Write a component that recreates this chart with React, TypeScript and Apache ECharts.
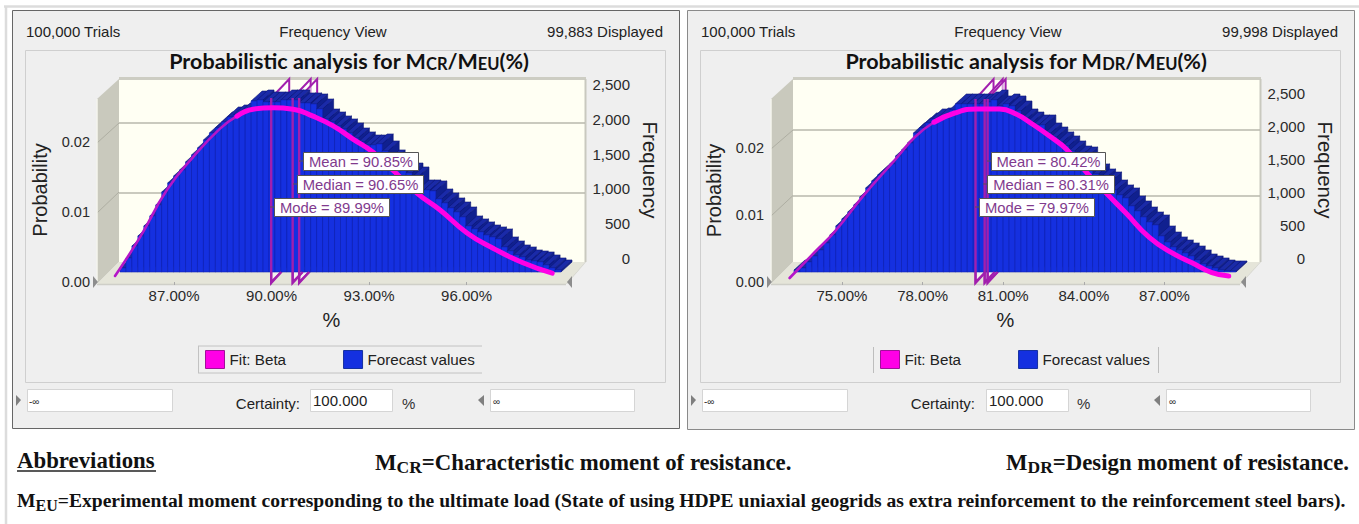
import React, { useEffect, useRef } from "react";
import * as echarts from "echarts";

const SANS = "'Liberation Sans', Arial, sans-serif";
const SERIF = "'Liberation Serif', 'Times New Roman', serif";
const TITLE_FONT = "Lato, 'Noto Sans', sans-serif";

// Left chart: M_CR / M_EU
const crBars = [58,201,374,518,662,806,964,1151,1281,1381,1468,1583,1684,1784,1899,2000,2072,2158,2230,2259,2288,2302,2460,2475,2446,2446,2446,2475,2475,2475,2432,2432,2417,2345,2201,2158,2101,2058,2000,1928,1871,1827,1827,1842,1741,1612,1554,1496,1424,1367,1180,1180,1166,1050,993,921,863,791,662,619,576,532,504,475,360,302,245,216,173,158,144,101,58,29];
const crFitX = [85.0,85.77,86.6,87.4,88.23,88.75,89.25,89.86,90.48,91.09,91.71,92.32,92.94,93.6,94.3,95.0,95.83,96.63,97.55,98.45];
const crFitY = [0,.0056,.0124,.0171,.0212,.023,.024,.0242,.024,.023,.0216,.0197,.0178,.015,.0119,.0095,.0062,.004,.0019,.0004];
const crStats = [89.99, 90.65, 90.85];
const crTicks = [87, 90, 93, 96];

// Right chart: M_DR / M_EU
const drBars = [30,61,152,242,333,439,561,697,803,909,1015,1136,1273,1379,1470,1545,1636,1757,1848,1954,2106,2182,2257,2318,2333,2333,2454,2545,2545,2545,2545,2545,2575,2606,2515,2545,2515,2439,2318,2272,2227,2227,2106,2045,1970,1909,1833,1757,1742,1576,1485,1409,1363,1242,1167,1121,1000,924,833,757,712,545,454,379,333,288,242,182,121,91,61,30,15,15];
const drFitX = [72.83,73.76,74.5,75.6,76.75,77.5,78.2,78.97,79.8,80.64,81.27,81.87,82.5,83.13,83.9,84.6,85.35,86.2,87.06,87.8,88.54,89.17];
const drFitY = [0,.0039,.007,.0126,.0179,.0214,.0236,.025,.0256,.0256,.0248,.0233,.0215,.0195,.0159,.0129,.0098,.0062,.0038,.0023,.0008,.0003];
const drStats = [79.97, 80.31, 80.42];
const drTicks = [75, 78, 81, 84, 87];

const probTicks = [0, 0.01, 0.02];
const freqTicks = [0, 500, 1000, 1500, 2000, 2500];

const crHead = ["100,000 Trials", "Frequency View", "99,883 Displayed"];
const drHead = ["100,000 Trials", "Frequency View", "99,998 Displayed"];
const crStatLabels = ["Mode = 89.99%", "Median = 90.65%", "Mean = 90.85%"];
const drStatLabels = ["Mode = 79.97%", "Median = 80.31%", "Mean = 80.42%"];

const MAGENTA = "#ff00e6";
const PURPLE = "#b516c8";
const MARK = "#a21fae";
const BLUE = "#1530e0";

function tx(x: number, y: number, text: string, font: string, fill: string, align = "left", extra: any = {}) {
  return {
    type: "text", x, y, z: 60, silent: true,
    style: { text, font, fill, align, textAlign: align, verticalAlign: "middle", textVerticalAlign: "middle", ...extra },
  };
}
const ln = (x1: number, y1: number, x2: number, y2: number, stroke: string, lineWidth = 1, z = -5) => ({
  type: "line", z, silent: true, shape: { x1, y1, x2, y2 }, style: { stroke, lineWidth },
});
const rc = (x: number, y: number, width: number, height: number, fill: string, stroke: string, z = -9, lineWidth = 1) => ({
  type: "rect", z, silent: true, shape: { x, y, width, height }, style: { fill, stroke, lineWidth },
});
const pg = (points: number[][], fill: string, z = -7, stroke = "none", lineWidth = 0) => ({
  type: "polygon", z, silent: true, shape: { points }, style: { fill, stroke, lineWidth },
});

function barRender(dx: number, dy: number) {
  return (params: any, api: any) => {
    const i = api.value(0);
    const [cx, y] = api.coord([i, api.value(1)]);
    const base = api.coord([i, 0])[1];
    const w = api.size([1, 0])[0];
    const x0 = cx - w / 2;
    const x1 = cx + w / 2;
    const dark = { fill: "#1a2aa8", stroke: "#0b1675", lineWidth: 0.6 };
    return {
      type: "group",
      children: [
        { type: "polygon", shape: { points: [[x1, y], [x1 + dx, y - dy], [x1 + dx, base - dy], [x1, base]] }, style: { ...dark, fill: "#10208f" } },
        { type: "polygon", shape: { points: [[x0, y], [x0 + dx, y - dy], [x1 + dx, y - dy], [x1, y]] }, style: dark },
        { type: "rect", shape: { x: x0, y, width: w, height: base - y }, style: { fill: BLUE, stroke: "#1124b4", lineWidth: 0.6 } },
      ],
    };
  };
}

function markBack(maxProb: number) {
  return (params: any, api: any) => {
    const [x, yBase] = api.coord([api.value(0), 0]);
    const yTop = api.coord([api.value(0), maxProb])[1];
    return {
      type: "polygon",
      shape: { points: [[x, yTop], [x + 18, 79], [x + 18, yBase - 18], [x, yBase]] },
      style: { fill: "rgba(255,255,255,0.55)", stroke: MARK, lineWidth: 2 },
    };
  };
}
function markFront(maxProb: number) {
  return (params: any, api: any) => {
    const [x, yBase] = api.coord([api.value(0), 0]);
    const yTop = api.coord([api.value(0), maxProb])[1];
    return {
      type: "polyline",
      shape: { points: [[x, yTop], [x, yBase + 1], [x + 10, yBase - 10]] },
      style: { fill: "none", stroke: MARK, lineWidth: 2.4 },
    };
  };
}

const L = {
  head: crHead, statLabels: crStatLabels, stats: crStats, bars: crBars, fitX: crFitX, fitY: crFitY, ticks: crTicks,
  split: 5, frontL: 97, frontR: 566, xMin: 84.63, xMax: 99.06, frontTop: 98, frontMax: 0.0263,
  barL: 120, barW: 441, barMax: 2777, fitOff: 6, fitBottom: 276, fitScale: 6950,
  backL: 119, backR: 585, backMax: 2633, labelMax: 2543, dx: 11, dy: 10,
};
const R = {
  head: drHead, statLabels: drStatLabels, stats: drStats, bars: drBars, fitX: drFitX, fitY: drFitY, ticks: drTicks,
  split: 6, frontL: 771, frontR: 1240, xMin: 72.36, xMax: 89.81, frontTop: 99, frontMax: 0.0273,
  barL: 794, barW: 442, barMax: 2924, fitOff: 6, fitBottom: 278, fitScale: 6600,
  backL: 793, backR: 1260, backMax: 2773, labelMax: 2667, dx: 11, dy: 10,
};

function buildOption() {
  const grid: any[] = [];
  const xAxis: any[] = [];
  const yAxis: any[] = [];
  const series: any[] = [];
  [L, R].forEach((p, k) => {
    const gi = k * 5;
    const hiddenY = (gridIndex: number, max: number) => ({ gridIndex, type: "value", show: false, min: 0, max });
    // 0: front plane
    grid.push({ left: p.frontL, width: p.frontR - p.frontL, top: p.frontTop, height: 282 - p.frontTop });
    // 1: bar plane
    grid.push({ left: p.barL, width: p.barW, top: 79, height: 193 });
    // 2: fit plane
    const fitMax = 0.03;
    grid.push({ left: p.frontL + p.fitOff, width: p.frontR - p.frontL, top: p.fitBottom - fitMax * p.fitScale, height: fitMax * p.fitScale });
    // 3: back wall (gridlines)
    grid.push({ left: p.backL, width: p.backR - p.backL, top: 79, height: 183 });
    // 4: frequency scale, drawn a little above the wall
    grid.push({ left: p.backL, width: p.backR - p.backL, top: 82, height: 176 });

    xAxis.push({
      gridIndex: gi, type: "value", min: p.xMin, max: p.xMax,
      name: "%", nameLocation: "middle", nameGap: 28,
      nameTextStyle: { fontFamily: SANS, fontSize: 20, color: "#222" },
      axisLine: { show: false }, splitLine: { show: false },
      axisTick: { show: true, length: 3, customValues: p.ticks, lineStyle: { color: "#aaa" } },
      axisLabel: { margin: 6, fontFamily: SANS, fontSize: 15, color: "#2a2a2a", customValues: p.ticks, formatter: (v: number) => v.toFixed(2) + "%" },
    });
    xAxis.push({ gridIndex: gi + 1, type: "category", show: false, data: p.bars.map((_, i) => i), boundaryGap: true });
    xAxis.push({ gridIndex: gi + 2, type: "value", show: false, min: p.xMin, max: p.xMax });
    xAxis.push({ gridIndex: gi + 3, type: "value", show: false, min: 0, max: 1 });
    xAxis.push({ gridIndex: gi + 4, type: "value", show: false, min: 0, max: 1 });

    yAxis.push({
      gridIndex: gi, type: "value", min: 0, max: p.frontMax, position: "left",
      name: "Probability", nameLocation: "middle", nameRotate: 90, nameGap: 47,
      nameTextStyle: { fontFamily: SANS, fontSize: 20, color: "#222" },
      axisLine: { show: false }, axisTick: { show: false }, splitLine: { show: false },
      axisLabel: { margin: 7, fontFamily: SANS, fontSize: 14.5, color: "#2a2a2a", customValues: probTicks, formatter: (v: number) => v.toFixed(2) },
    });
    yAxis.push(hiddenY(gi + 1, p.barMax));
    yAxis.push(hiddenY(gi + 2, fitMax));
    yAxis.push({
      gridIndex: gi + 3, type: "value", min: 0, max: p.backMax, position: "left", interval: 1000,
      axisLine: { show: false }, axisTick: { show: false }, axisLabel: { show: false },
      splitLine: { show: true, showMinLine: false, showMaxLine: false, lineStyle: { color: "#b9b9ad", width: 1.5 } },
    });
    yAxis.push({
      gridIndex: gi + 4, type: "value", min: 0, max: p.labelMax, position: "right",
      name: "Frequency", nameLocation: "middle", nameRotate: -90, nameGap: 55,
      nameTextStyle: { fontFamily: SANS, fontSize: 20.5, color: "#222" },
      axisLine: { show: false }, axisTick: { show: false }, splitLine: { show: false },
      axisLabel: {
        margin: 45, align: "right", fontFamily: SANS, fontSize: 15, color: "#2a2a2a",
        customValues: freqTicks, formatter: (v: number) => v.toLocaleString("en-US"),
      },
    });

    const statData = p.stats.map((v) => [v, 0]);
    series.push({
      type: "custom", name: "Marker back", xAxisIndex: gi, yAxisIndex: gi, z: 3, silent: true,
      renderItem: markBack(p.frontMax), data: statData, encode: { x: 0, y: 1 },
    });
    series.push({
      type: "custom", name: "Forecast values", xAxisIndex: gi + 1, yAxisIndex: gi + 1, z: 4, silent: true,
      itemStyle: { color: BLUE }, renderItem: barRender(p.dx, p.dy),
      data: p.bars.map((v, i) => [i, v]), encode: { x: 0, y: 1 },
    });
    series.push({
      type: "custom", name: "Marker front", xAxisIndex: gi, yAxisIndex: gi, z: 5, silent: true,
      renderItem: markFront(p.frontMax), data: statData, encode: { x: 0, y: 1 },
    });
    const fit = p.fitX.map((x, i) => [x, p.fitY[i]]);
    series.push({
      type: "line", name: "Fit: Beta", xAxisIndex: gi + 2, yAxisIndex: gi + 2, z: 6, silent: true, clip: false,
      smooth: 0.5, showSymbol: false, symbol: "none", data: fit.slice(0, p.split + 1),
      lineStyle: { color: PURPLE, width: 2.6, cap: "round" }, itemStyle: { color: MAGENTA },
    });
    series.push({
      type: "line", name: "Fit: Beta", xAxisIndex: gi + 2, yAxisIndex: gi + 2, z: 6, silent: true, clip: false,
      smooth: 0.5, showSymbol: false, symbol: "none", data: fit.slice(p.split),
      lineStyle: { color: MAGENTA, width: 5, cap: "round" }, itemStyle: { color: MAGENTA },
    });
  });

  const font = (s: number) => `${s}px ${SANS}`;
  const els: any[] = [];
  // page frame
  els.push(ln(4, 6.5, 1359, 6.5, "#dcdcdc", 2.5, -12), ln(6, 6, 6, 524, "#dcdcdc", 2.5, -12));
  const panels = [
    { p: L, ox: 12.5, ow: 667, oh: 418, ix: 25, iw: 640, h: [26, 333, 663], stroke: "#666", statBox: [[274, 115], [297, 126], [303, 115]],
      inputs: { tri1: 16, box1: 27, w1: 145, cert: 300, box2: 310, pct: 402, tri2: 484, box3: 490, w3: 144 } },
    { p: R, ox: 687.5, ow: 667, oh: 419, ix: 700, iw: 640, h: [701, 1008, 1338], stroke: "#8a8a8a", statBox: [[979, 115], [987, 127], [991, 114]],
      inputs: { tri1: 691, box1: 702, w1: 145, cert: 975, box2: 986, pct: 1077, tri2: 1160, box3: 1166, w3: 144 } },
  ];
  panels.forEach(({ p, ox, ow, oh, ix, iw, h, stroke, statBox, inputs }) => {
    els.push(rc(ox, 10.5, ow, oh, "#efefef", stroke, -11));
    els.push(rc(ix + 0.5, 50.5, iw, 332, "#efefef", "#cfcfcf", -10));
    els.push(tx(h[0], 31, p.head[0], font(15), "#222"));
    els.push(tx(h[1], 31, p.head[1], font(15), "#222", "center"));
    els.push(tx(h[2], 31, p.head[2], font(15), "#222", "right"));
    // 3-D box
    const bL = p.backL, bR = p.backR, fL = p.frontL, fR = p.frontR;
    els.push(rc(bL, 79, bR - bL, 183, "#fffff3", "none", -9));
    els.push(pg([[bL, 79], [fL, 99], [fL, 284], [bL, 262]], "#c9c9bd", -8));
    els.push(pg([[bL, 262], [bR, 262], [fR, 284], [fL, 284]], "#e5e5d9", -8));
    els.push(ln(bL, 78.5, bR + 1, 78.5, "#cdcdc3", 3), ln(bR + 0.5, 79, bR + 0.5, 262, "#c9c9bf", 2));
    els.push(ln(fL, 99, fL, 284, "#f4f4ee", 1.5), ln(fL, 284.5, fR, 284.5, "#cfcfc8", 1.5));
    els.push(pg([[bR, 262], [bR + 1, 262], [fR + 1, 284], [fR, 284]], "#d4d4ca", -6));
    const gy = p === L ? [123, 192] : [130, 195.5];
    const gf = p === L ? [143, 213] : [149, 216];
    gy.forEach((y, i) => els.push(ln(fL, gf[i], bL, y, "#aeaea2", 1, -6)));
    // slider handles
    els.push(pg([[fL - 4, 276], [fL + 1, 282], [fL - 4, 288]], "#8d8d8d", 30));
    els.push(pg([[fR + 6, 276], [fR + 1, 282], [fR + 6, 288]], "#8d8d8d", 30));
    // statistic labels
    const rows = [198, 175, 152];
    statBox.forEach(([x, w], i) => {
      const top = rows[i];
      els.push(ln(x - 4, top + 9, x, top + 9, "#555", 1, 61));
      els.push(rc(x + 0.5, top + 0.5, w, 18, "#ffffff", "#555", 61));
      els.push({ ...tx(x + w / 2 + 0.5, top + 9.5, p.statLabels[i], font(14.8), "#813a8e", "center"), z: 62 });
    });
    // input row
    const I = inputs;
    els.push(pg([[I.tri1, 395], [I.tri1 + 5, 400], [I.tri1, 406]], "#7f7f7f", 5));
    els.push(rc(I.box1 + 0.5, 389.5, I.w1, 22, "#ffffff", "#d5d5d5", -8));
    els.push(tx(I.box1 + 2, 401, "-∞", font(10), "#333"));
    els.push(tx(I.cert, 403, "Certainty:", font(15), "#222", "right"));
    els.push(rc(I.box2 + 0.5, 389.5, 82, 22, "#ffffff", "#d5d5d5", -8));
    els.push(tx(I.box2 + 3, 400, "100.000", font(15), "#222"));
    els.push(tx(I.pct, 403, "%", font(15), "#333"));
    els.push(pg([[I.tri2, 395], [I.tri2 - 6, 400], [I.tri2, 406]], "#7f7f7f", 5));
    els.push(rc(I.box3 + 0.5, 389.5, I.w3, 22, "#ffffff", "#d5d5d5", -8));
    els.push(tx(I.box3 + 3, 401, "∞", font(10), "#333"));
  });
  // legend frames
  els.push(ln(198, 346, 482, 346, "#c2c2c2"), ln(198, 373, 482, 373, "#c2c2c2"), ln(198.5, 346, 198.5, 373, "#c2c2c2"));
  els.push(ln(873.5, 347, 873.5, 373, "#bdbdbd"), ln(1158.5, 347, 1158.5, 373, "#bdbdbd"));

  // footer
  const serif = (s: number) => `bold ${s}px ${SERIF}`;
  const sub = (size: number, pad: number) => ({ s: { font: serif(size), fill: "#111", verticalAlign: "bottom", padding: [pad, 0, 0, 0] } });
  els.push(tx(17, 460, "Abbreviations", serif(22.8), "#111"));
  els.push(ln(17, 471, 156, 471, "#222", 1.6, 60));
  els.push(tx(375, 462, "M{s|CR}=Characteristic moment of resistance.", serif(22.8), "#111", "left", { rich: sub(17.5, 10) }));
  els.push(tx(1349, 462, "M{s|DR}=Design moment of resistance.", serif(22.8), "#111", "right", { rich: sub(17.5, 10) }));
  els.push(tx(17, 500, "M{s|EU}=Experimental moment corresponding to the ultimate load (State of using HDPE uniaxial geogrids as extra reinforcement to the reinforcement steel bars).", serif(19.6), "#111", "left", { rich: sub(16, 10) }));

  const titleOf = (a: string, left: number) => ({
    text: `Probabilistic analysis for M{s|${a}}/M{s|EU}(%)`,
    left, top: 45, textAlign: "center",
    textStyle: {
      fontFamily: TITLE_FONT, fontWeight: "bold", fontSize: 21.5, color: "#111",
      rich: { s: { fontFamily: TITLE_FONT, fontWeight: "bold", fontSize: 16.5, color: "#111", verticalAlign: "bottom", padding: [3, 0, 0, 0] } },
    },
  });
  const legendOf = (left: number) => ({
    left, top: 350, padding: 0, orient: "horizontal", itemWidth: 19, itemHeight: 18, itemGap: 57, selectedMode: false,
    textStyle: { fontFamily: SANS, fontSize: 15.2, color: "#222" },
    data: [
      { name: "Fit: Beta", icon: "rect", itemStyle: { color: MAGENTA, borderColor: "#a0109a", borderWidth: 1 } },
      { name: "Forecast values", icon: "rect", itemStyle: { color: "#1430e0", borderColor: "#1430a0", borderWidth: 1 } },
    ],
  });

  return {
    animation: false,
    backgroundColor: "#ffffff",
    title: [titleOf("CR", 344), titleOf("DR", 1021)],
    legend: [legendOf(205), legendOf(880)],
    grid, xAxis, yAxis, series,
    graphic: { elements: els },
  };
}

export default function App() {
  const ref = useRef<HTMLDivElement>(null);
  useEffect(() => {
    const chart = echarts.init(ref.current!, undefined, { renderer: "svg" });
    chart.setOption(buildOption() as any);
    return () => chart.dispose();
  }, []);
  return <div ref={ref} style={{ position: "fixed", left: 0, top: 0, width: 1359, height: 524 }} />;
}
